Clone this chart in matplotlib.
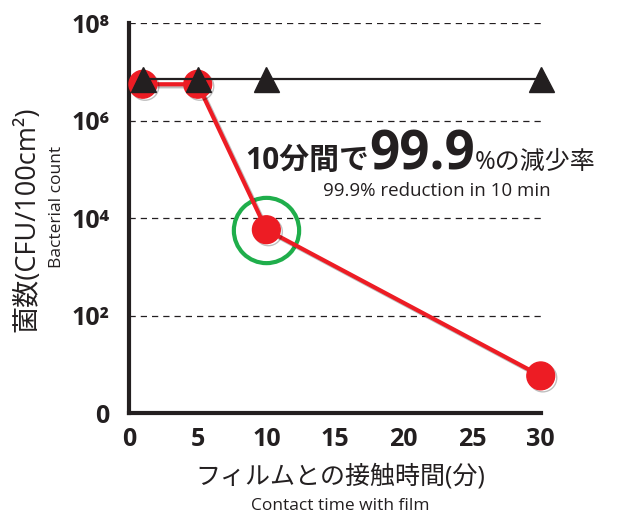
import numpy as np
import matplotlib
matplotlib.use("Agg")
import matplotlib.pyplot as plt
import matplotlib.patheffects as pe

plt.rcParams["font.family"] = ["Open Sans", "Noto Sans CJK JP", "DejaVu Sans"]

# data
minutes_film = [1, 5, 10, 30]
count_film = [5.6e6, 5.6e6, 5.8e3, 5.8]
minutes_ctrl = [1, 5, 10, 30]
count_ctrl = [7.2e6, 7.2e6, 7.2e6, 7.2e6]

y_ticks = [1, 1e2, 1e4, 1e6, 1e8]
y_labels = ["0", "10²", "10⁴", "10⁶", "10⁸"]
x_ticks = [0, 5, 10, 15, 20, 25, 30]

RED = "#ed1c24"
GREEN = "#1fae4b"
DARK = "#231f20"

fig = plt.figure(figsize=(6.18, 5.17), dpi=100)
ax = fig.add_axes([0.209, 0.201, 0.666, 0.754])

shadow = [pe.SimpleLineShadow(offset=(1.5, -1.5), alpha=0.25), pe.Normal()]

ax.plot(minutes_film, count_film, color=RED, lw=3.0, marker="o", ms=20,
        mec=RED, mfc=RED, zorder=3, path_effects=shadow, clip_on=False)
ax.plot(minutes_ctrl, count_ctrl, color=DARK, lw=1.6, marker="^", ms=18,
        mec=DARK, mfc=DARK, zorder=4, clip_on=False)

# highlight circle around the 10 min point
ax.plot([minutes_film[2]], [count_film[2]], marker="o", ms=47, mfc="none",
        mec=GREEN, mew=3.0, zorder=2, clip_on=False)

ax.set_yscale("log")
ax.set_ylim(1, 1e8)
ax.set_xlim(0, 30)
ax.set_yticks(y_ticks)
ax.set_yticklabels(y_labels)
ax.minorticks_off()
ax.set_xticks(x_ticks)

for lab in ax.get_yticklabels() + ax.get_xticklabels():
    lab.set_fontweight("bold")
    lab.set_fontsize(18)
    lab.set_color(DARK)

ax.tick_params(axis="both", length=0)
ax.tick_params(axis="y", pad=14)
ax.tick_params(axis="x", pad=10)

for v in y_ticks[1:]:
    ax.axhline(v, color=DARK, lw=0.9, ls=(0, (5, 4)), zorder=1)

for s in ["top", "right"]:
    ax.spines[s].set_visible(False)
for s in ["left", "bottom"]:
    ax.spines[s].set_linewidth(3)
    ax.spines[s].set_color(DARK)

# annotation, pieces placed one after another
fig.canvas.draw()
renderer = fig.canvas.get_renderer()
base_y = 10**5.0
x_pos = 8.45
pieces = [("10分間で", 21.5, "bold"), ("99.9", 38, "bold"), ("%の減少率", 18, "normal")]
for txt, size, weight in pieces:
    t = ax.text(x_pos, base_y, txt, fontsize=size, fontweight=weight,
                color=DARK, va="baseline", ha="left", clip_on=False)
    bb = t.get_window_extent(renderer)
    x_pos = ax.transData.inverted().transform((bb.x1, bb.y0))[0]

ax.text(14.1, 10**4.45, "99.9% reduction in 10 min", fontsize=13.5,
        color=DARK, va="baseline", ha="left", clip_on=False)

# axis labels
fig.text(0.045, 0.575, "菌数(CFU/100cm²)", rotation=90, fontsize=19.5,
         color=DARK, ha="center", va="center")
fig.text(0.092, 0.6, "Bacterial count", rotation=90, fontsize=12.5,
         color=DARK, ha="center", va="center")
fig.text(0.55, 0.078, "フィルムとの接触時間(分)", fontsize=18,
         color=DARK, ha="center", va="center")
fig.text(0.55, 0.022, "Contact time with film", fontsize=12.5,
         color=DARK, ha="center", va="center")

fig.savefig("out.png", dpi=100)
